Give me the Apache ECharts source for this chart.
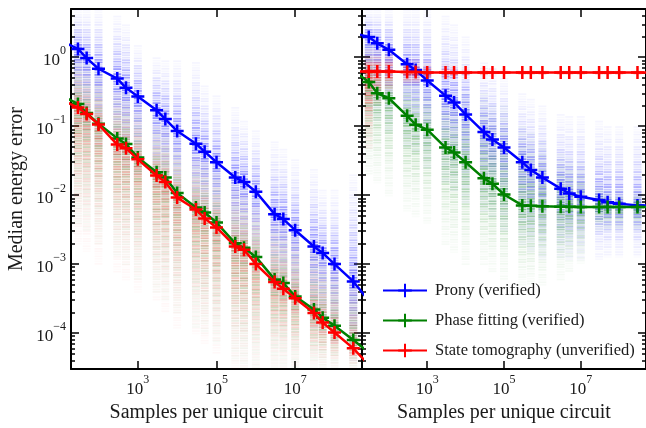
<!DOCTYPE html>
<html><head><meta charset="utf-8">
<script src="https://cdn.jsdelivr.net/npm/echarts@6/dist/echarts.min.js"></script>
<style>html,body{margin:0;padding:0;background:#fff}#c{width:646px;height:428px}</style>
</head><body><div id="c"></div><script>
// ---- data ----
const samples = [10,30,50,100,300,500,1e3,3e3,5e3,1e4,3e4,5e4,1e5,3e5,5e5,1e6,3e6,5e6,1e7,3e7,5e7,1e8,3e8,1e9];
const leftProny = [1.78,1.32,0.97,0.68,0.49,0.36,0.27,0.17,0.127,0.085,0.0556,0.0427,0.030,0.018,0.0155,0.0112,0.0053,0.0045,0.0031,0.0018,0.00145,0.00100,0.00056,0.00024];
const leftPhase = [0.29,0.21,0.155,0.108,0.0665,0.055,0.035,0.0214,0.018,0.0107,0.0066,0.0056,0.0040,0.0020,0.00172,0.00127,0.00060,0.00053,0.00034,0.00022,0.000167,0.000128,0.000079,0.000046];
const leftTomo = [0.25,0.186,0.15,0.106,0.054,0.048,0.033,0.0193,0.0155,0.0092,0.0062,0.0046,0.0034,0.0018,0.00162,0.00100,0.00055,0.00044,0.00032,0.000195,0.000142,0.000102,0.00006,0.000029];
const rightProny = [2.3,1.97,1.59,1.28,0.79,0.65,0.46,0.277,0.221,0.148,0.082,0.064,0.049,0.030,0.0232,0.018,0.0124,0.0106,0.0095,0.0085,0.0079,0.0075,0.0071,0.0070];
const rightPhase = [0.69,0.436,0.30,0.254,0.141,0.105,0.089,0.049,0.0415,0.030,0.0175,0.0146,0.0102,0.0071,0.0070,0.0069,0.0068,0.0068,0.0067,0.0067,0.0067,0.0067,0.0067,0.0067];
const rightTomo = [0.62,0.62,0.62,0.62,0.61,0.61,0.60,0.60,0.60,0.60,0.60,0.60,0.60,0.60,0.60,0.60,0.60,0.60,0.60,0.60,0.60,0.60,0.60,0.60];

// per-circuit spread (upper / lower extent of the faint dashes) for columns 30 .. 3e8
const spreadSamples = [30,50,100,300,500,1e3,3e3,5e3,1e4,3e4,5e4,1e5,3e5,5e5,1e6,3e6,5e6,1e7,3e7,5e7,1e8,3e8];
const leftPronyHi = [5,5,5,4,3,1.5,1.0,0.9,0.9,0.85,0.39,0.28,0.19,0.12,0.087,0.06,0.047,0.033,0.024,0.012,0.012,0.02];
const leftPronyLo = [0.1,0.07,0.05,0.035,0.025,0.018,0.012,0.009,0.006,0.004,0.003,0.002,0.0012,0.001,0.0008,0.0004,0.0003,0.0002,0.00012,0.0001,0.00007,0.00004];
const leftPhaseHi = [1.0,0.8,0.6,0.35,0.3,0.2,0.12,0.1,0.06,0.04,0.035,0.025,0.014,0.012,0.008,0.0045,0.004,0.0028,0.0018,0.0014,0.001,0.0007];
const leftPhaseLo = [0.004,0.003,0.002,0.0012,0.001,0.0006,0.0004,0.0003,0.0002,0.00012,0.0001,0.00007,0.00004,0.00003,0.00003,0.00003,0.00003,0.00003,0.00003,0.00003,0.00003,0.00003];
const leftTomoHi = [0.9,0.7,0.5,0.3,0.25,0.18,0.1,0.08,0.05,0.035,0.03,0.02,0.012,0.01,0.007,0.004,0.0035,0.0025,0.0016,0.0012,0.0009,0.0006];
const leftTomoLo = [0.002,0.0015,0.001,0.0008,0.0006,0.0004,0.0003,0.0002,0.00012,0.0001,0.00007,0.00005,0.00003,0.00003,0.00003,0.00003,0.00003,0.00003,0.00003,0.00003,0.00003,0.00003];
const rightPronyHi = [5,5,5,5,5,5,4,3,2,0.84,0.7,0.5,0.3,0.25,0.2,0.15,0.14,0.14,0.12,0.1,0.1,0.1];
const rightPronyLo = [0.15,0.12,0.08,0.05,0.04,0.025,0.015,0.012,0.008,0.006,0.005,0.003,0.002,0.0015,0.0012,0.0012,0.0012,0.0012,0.0012,0.0012,0.0012,0.0012];
const rightPhaseHi = [1.5,1.2,1.0,0.6,0.5,0.4,0.3,0.25,0.3,0.3,0.2,0.2,0.1,0.08,0.06,0.04,0.035,0.03,0.015,0.012,0.012,0.012];
const rightPhaseLo = [0.02,0.015,0.01,0.006,0.005,0.004,0.002,0.0015,0.001,0.001,0.0008,0.0006,0.0005,0.0005,0.0005,0.0006,0.0008,0.001,0.003,0.003,0.003,0.003];
const rightTomoHi = [1.3,1.3,1.3,0.95,0.95,0.9,0.8,0.75,0.7,0.7,0.68,0.66,0.65,0.65,0.65,0.65,0.65,0.65,0.65,0.65,0.65,0.65];
const rightTomoLo = [0.05,0.2,0.3,0.4,0.4,0.45,0.5,0.52,0.55,0.56,0.57,0.57,0.57,0.57,0.57,0.57,0.57,0.57,0.57,0.57,0.57,0.57];

const xMajor = [1e3,1e5,1e7];
const yMajor = [1e-4,1e-3,1e-2,1e-1,1];
const yMinor = [3e-5,4e-5,5e-5,6e-5,7e-5,8e-5,9e-5,2e-4,3e-4,4e-4,5e-4,6e-4,7e-4,8e-4,9e-4,2e-3,3e-3,4e-3,5e-3,6e-3,7e-3,8e-3,9e-3,0.02,0.03,0.04,0.05,0.06,0.07,0.08,0.09,0.2,0.3,0.4,0.5,0.6,0.7,0.8,0.9,2,3,4,5];
const names = ['Prony (verified)','Phase fitting (verified)','State tomography (unverified)'];
const colors = ['#0000ff','#008000','#ff0000'];

// ---- chart ----
const FONT = "'Liberation Serif','DejaVu Serif',serif";
const TXT = '#1a1a1a';
const chart = echarts.init(document.getElementById('c'), null, {renderer:'canvas'});
const sup = v => { const e = Math.round(Math.log10(v)); return '{b|10}{s|' + (e < 0 ? '\u2212' + (-e) : e) + '}'; };
const rich = {
  b:{fontSize:17,fontFamily:FONT,color:TXT,verticalAlign:'bottom',lineHeight:24},
  s:{fontSize:12,fontFamily:FONT,color:TXT,verticalAlign:'top',lineHeight:12}
};
const XMIN = 20, XMAX = 5e8, YMIN = 3e-5, YMAX = 5;
const spine = {show:true,onZero:false,lineStyle:{color:'#000',width:2}};

function xAx(grid, pos, labels) {
  return {type:'log',logBase:10,gridIndex:grid,position:pos,min:XMIN,max:XMAX,
    axisLine:spine,splitLine:{show:false},minorTick:{show:false},
    axisTick:{show:true,inside:true,length:8,lineStyle:{color:'#000',width:1.5},customValues:xMajor},
    axisLabel:labels?{show:true,customValues:xMajor,formatter:sup,rich:rich,margin:5}:{show:false},
    name:labels?'Samples per unique circuit':'',nameLocation:'middle',nameGap:20,
    nameTextStyle:{fontFamily:FONT,fontSize:20,color:TXT}};
}
function yAx(grid, pos, major, labels) {
  const o = {type:'log',logBase:10,gridIndex:grid,position:pos,min:YMIN,max:YMAX,
    splitLine:{show:false},minorTick:{show:false},
    axisLine:major?spine:{show:false},
    axisTick:{show:true,inside:true,length:major?8:4,lineStyle:{color:'#000',width:1.5},customValues:major?yMajor:yMinor},
    axisLabel:labels?{show:true,customValues:yMajor,formatter:sup,rich:rich,margin:5}:{show:false}};
  if (labels) { o.name='Median energy error'; o.nameLocation='middle'; o.nameGap=44; o.nameRotate=90;
    o.nameTextStyle={fontFamily:FONT,fontSize:20,color:TXT}; }
  return o;
}

function dashRender(color, peak) {
  return function (params, api) {
    const x = api.value(0), lo = api.value(1), hi = api.value(2), med = api.value(3);
    const pLo = api.coord([x, lo]), pHi = api.coord([x, hi]), pMed = api.coord([x, med]);
    const cs = params.coordSys;
    const top = Math.max(pHi[1], cs.y), bot = Math.min(pLo[1], cs.y + cs.height);
    const w = 8, children = [];
    let i = 0;
    for (let y = top; y <= bot; y += 2.5, i++) {
      const t = y < pMed[1] ? (pMed[1]-y)/Math.max(1,pMed[1]-pHi[1]) : (y-pMed[1])/Math.max(1,pLo[1]-pMed[1]);
      let a = peak * (0.08 + 0.92*Math.pow(Math.max(0,1-t),1.8));
      if (i % 3 === 1) a *= 0.55;
      if (i % 5 === 2) a *= 0.7;
      children.push({type:'rect',shape:{x:pMed[0]-w/2,y:y,width:w,height:1.8},style:{fill:color,opacity:a}});
    }
    return {type:'group',children};
  };
}
function dashSeries(grid, hi, lo, med, ci, peak) {
  return {type:'custom',xAxisIndex:grid*2,yAxisIndex:grid*4,clip:true,silent:true,z:1,
    renderItem:dashRender(colors[ci], peak),encode:{x:0,y:[1,2]},
    data:spreadSamples.map((s,i)=>[s, lo[i], hi[i], med[i+1]])};
}
const PLUS = 'path://M0,-1L0,1M-1,0L1,0';
function lineSeries(grid, vals, ci) {
  return {type:'line',name:names[ci],xAxisIndex:grid*2,yAxisIndex:grid*4,z:3+ci,
    data:samples.map((s,i)=>[s, vals[i]]),symbol:PLUS,symbolSize:13,showSymbol:true,
    lineStyle:{color:colors[ci],width:2.5},
    itemStyle:{color:colors[ci],borderColor:colors[ci],borderWidth:2.5},
    emphasis:{disabled:true},animation:false};
}

chart.setOption({
  animation:false,
  backgroundColor:'#fff',
  grid:[{left:71,top:9,width:291,height:371},{left:362,top:9,width:288,height:371}],
  xAxis:[xAx(0,'bottom',true),xAx(0,'top',false),xAx(1,'bottom',true),xAx(1,'top',false)],
  yAxis:[yAx(0,'left',true,true),yAx(0,'left',false,false),yAx(0,'right',true,false),yAx(0,'right',false,false),
         yAx(1,'left',true,false),yAx(1,'left',false,false),yAx(1,'right',true,false),yAx(1,'right',false,false)],
  legend:{show:true,orient:'vertical',left:377,top:277,itemWidth:44,itemHeight:17,itemGap:13,
    data:names,textStyle:{fontFamily:FONT,fontSize:16.5,color:TXT,padding:[0,0,0,3]}},
  series:[
    dashSeries(0,leftPronyHi,leftPronyLo,leftProny,0,0.5),
    dashSeries(0,leftPhaseHi,leftPhaseLo,leftPhase,1,0.38),
    dashSeries(0,leftTomoHi,leftTomoLo,leftTomo,2,0.34),
    dashSeries(1,rightPronyHi,rightPronyLo,rightProny,0,0.5),
    dashSeries(1,rightPhaseHi,rightPhaseLo,rightPhase,1,0.45),
    dashSeries(1,rightTomoHi,rightTomoLo,rightTomo,2,0.65),
    lineSeries(0,leftProny,0), lineSeries(0,leftPhase,1), lineSeries(0,leftTomo,2),
    lineSeries(1,rightProny,0), lineSeries(1,rightPhase,1), lineSeries(1,rightTomo,2)
  ]
});
</script></body></html>
